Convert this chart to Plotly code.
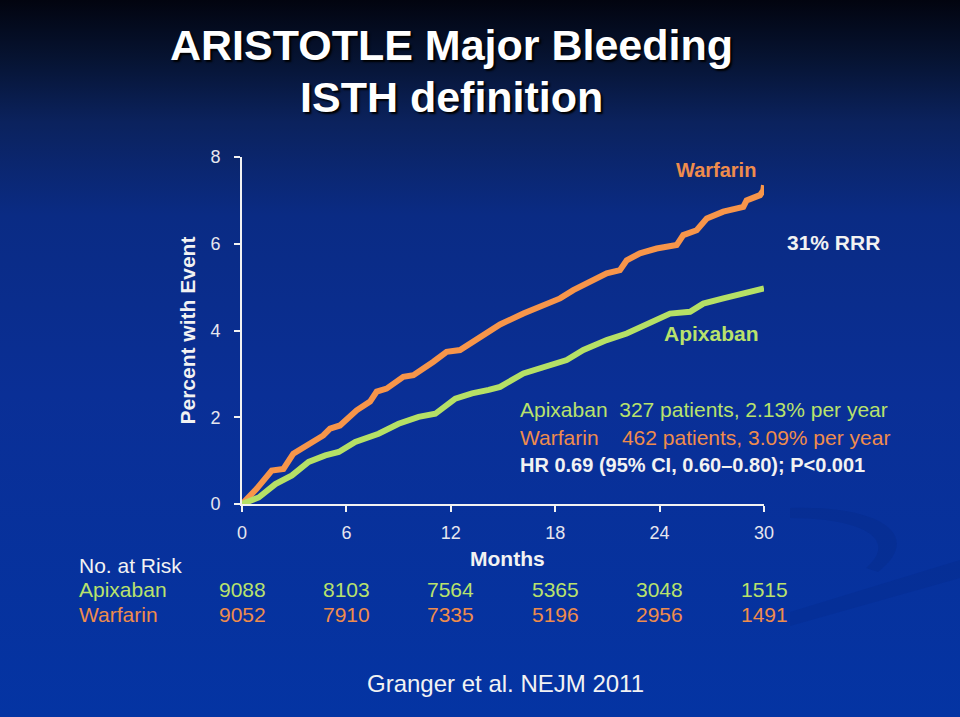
import base64
import plotly.graph_objects as go

# ---------------- data ----------------
warfarin_months = [0, 0.84, 1.71, 2.38, 2.95, 3.72, 4.67, 5.06, 5.63, 6.59, 7.36, 7.74, 8.31, 9.27,
                   9.85, 11.0, 11.76, 12.53, 13.3, 14.06, 14.83, 16.17, 17.51, 18.28, 19.04, 20.0,
                   20.96, 21.72, 22.11, 22.87, 23.83, 24.98, 25.36, 26.13, 26.71, 27.66, 28.81,
                   29.0, 29.77, 29.96, 30.0]
warfarin_pct = [0, 0.35, 0.77, 0.81, 1.16, 1.35, 1.58, 1.74, 1.81, 2.16, 2.36, 2.59, 2.66, 2.93,
                2.97, 3.28, 3.51, 3.55, 3.75, 3.98, 4.14, 4.39, 4.62, 4.74, 4.93, 5.12,
                5.32, 5.39, 5.62, 5.78, 5.89, 5.97, 6.2, 6.31, 6.58, 6.74, 6.85,
                7.0, 7.12, 7.23, 7.35]

apixaban_months = [0, 0.96, 1.92, 2.87, 3.83, 4.79, 5.56, 6.51, 7.85, 9.0, 10.15, 11.11, 12.26,
                   13.22, 14.18, 14.83, 16.17, 17.51, 18.66, 19.62, 20.96, 22.11, 23.26, 24.6,
                   25.75, 26.51, 27.66, 28.81, 30.0]
apixaban_pct = [0, 0.15, 0.46, 0.66, 0.97, 1.12, 1.2, 1.43, 1.62, 1.85, 2.01, 2.08, 2.43,
                2.55, 2.63, 2.7, 3.01, 3.16, 3.32, 3.55, 3.78, 3.93, 4.16, 4.39,
                4.43, 4.62, 4.74, 4.85, 4.97]

x_ticks = [0, 6, 12, 18, 24, 30]
y_ticks = [0, 2, 4, 6, 8]
risk_apixaban = [9088, 8103, 7564, 5365, 3048, 1515]
risk_warfarin = [9052, 7910, 7335, 5196, 2956, 1491]

title_lines = ["ARISTOTLE Major Bleeding", "ISTH definition"]
stats_lines = ["Apixaban  327 patients, 2.13% per year",
               "Warfarin    462 patients, 3.09% per year",
               "HR 0.69 (95% CI, 0.60\u20130.80); P<0.001"]

# ---------------- styles ----------------
ORANGE = "#f7954a"
GREEN = "#b5e066"
ORANGE_T = "#ef8c4c"
GREEN_T = "#b9e26c"
WHITE = "#f2f2f2"
FONT = "Liberation Sans, Arial, sans-serif"

W, H = 960, 717
L, R, T, B = 242, 196, 157, 213
pw, ph = W - L - R, H - T - B


def px(xp):
    return (xp - L) / pw


def py(yp):
    return (H - B - yp) / ph


svg = f"""<svg xmlns='http://www.w3.org/2000/svg' width='{W}' height='{H}' viewBox='0 0 {W} {H}' preserveAspectRatio='none'>
<defs><linearGradient id='g' x1='0' y1='0' x2='0' y2='1'>
<stop offset='0' stop-color='#02040f'/>
<stop offset='0.08' stop-color='#061331'/>
<stop offset='0.17' stop-color='#0b225d'/>
<stop offset='0.30' stop-color='#0a2b84'/>
<stop offset='0.55' stop-color='#0a2f96'/>
<stop offset='1' stop-color='#0434a3'/>
</linearGradient></defs>
<rect width='{W}' height='{H}' fill='url(#g)'/>
<path d='M 790 508 C 880 505 925 535 878 572 L 866 568 C 900 538 860 518 790 518 Z' fill='#042278' opacity='0.2'/>
<path d='M 790 612 L 960 560 L 960 578 L 790 626 Z' fill='#042278' opacity='0.18'/>
</svg>"""
bg_src = "data:image/svg+xml;base64," + base64.b64encode(svg.encode()).decode()

fig = go.Figure()
fig.add_trace(go.Scatter(x=warfarin_months, y=warfarin_pct, mode="lines",
                         line=dict(color=ORANGE, width=6), name="Warfarin", showlegend=False))
fig.add_trace(go.Scatter(x=apixaban_months, y=apixaban_pct, mode="lines",
                         line=dict(color=GREEN, width=6), name="Apixaban", showlegend=False))

ann = []
for t_line, yy in zip(title_lines, [45, 97]):
    ann.append(dict(text="<b>" + t_line + "</b>", xref="paper", yref="paper", x=px(451), y=py(yy),
                    xanchor="center", yanchor="middle", showarrow=False,
                    font=dict(family=FONT, size=43, color="white", shadow="2px 2px 2px #000000")))
ann.append(dict(text="<b>Percent with Event</b>", textangle=-90, xref="paper", yref="paper",
                x=px(187), y=0.5, xanchor="center", yanchor="middle", showarrow=False,
                font=dict(family=FONT, size=21, color=WHITE)))
ann.append(dict(text="<b>Warfarin</b>", xref="paper", yref="paper", x=px(716), y=py(170),
                xanchor="center", yanchor="middle", showarrow=False,
                font=dict(family=FONT, size=20, color=ORANGE_T)))
ann.append(dict(text="<b>Apixaban</b>", xref="paper", yref="paper", x=px(711), y=py(333),
                xanchor="center", yanchor="middle", showarrow=False,
                font=dict(family=FONT, size=21, color=GREEN_T)))
ann.append(dict(text="<b>31% RRR</b>", xref="paper", yref="paper", x=px(833), y=py(242),
                xanchor="center", yanchor="middle", showarrow=False,
                font=dict(family=FONT, size=21, color=WHITE)))
stat_cols = [GREEN_T, ORANGE_T, WHITE]
stat_y = [409, 437, 465]
for i, (s, c, yy) in enumerate(zip(stats_lines, stat_cols, stat_y)):
    txt = "<b>" + s + "</b>" if i == 2 else s
    ann.append(dict(text=txt, xref="paper", yref="paper", x=px(518), y=py(yy),
                    xanchor="left", yanchor="middle", showarrow=False,
                    font=dict(family=FONT, size=21 if i < 2 else 20, color=c)))
ann.append(dict(text="<b>Months</b>", xref="paper", yref="paper", x=px(507), y=py(558),
                xanchor="center", yanchor="middle", showarrow=False,
                font=dict(family=FONT, size=21, color=WHITE)))
ann.append(dict(text="No. at Risk", xref="paper", yref="paper", x=px(77), y=py(565),
                xanchor="left", yanchor="middle", showarrow=False,
                font=dict(family=FONT, size=21, color=WHITE)))
for label, vals, col, yy in [("Apixaban", risk_apixaban, GREEN_T, 589),
                             ("Warfarin", risk_warfarin, ORANGE_T, 614)]:
    ann.append(dict(text=label, xref="paper", yref="paper", x=px(77), y=py(yy),
                    xanchor="left", yanchor="middle", showarrow=False,
                    font=dict(family=FONT, size=21, color=col)))
    for xv, v in zip(x_ticks, vals):
        ann.append(dict(text=str(v), xref="x", yref="paper", x=xv, y=py(yy),
                        xanchor="center", yanchor="middle", showarrow=False,
                        font=dict(family=FONT, size=21, color=col)))
ann.append(dict(text="Granger et al. NEJM 2011", xref="paper", yref="paper", x=px(505), y=py(683),
                xanchor="center", yanchor="middle", showarrow=False,
                font=dict(family=FONT, size=24, color=WHITE)))

fig.update_layout(
    width=W, height=H,
    margin=dict(l=L, r=R, t=T, b=B, pad=0),
    paper_bgcolor="#0a2b86",
    plot_bgcolor="rgba(0,0,0,0)",
    annotations=ann,
    images=[dict(source=bg_src, xref="paper", yref="paper", x=px(0), y=py(0),
                 sizex=W / pw, sizey=H / ph, sizing="stretch", xanchor="left", yanchor="top",
                 layer="below")],
    xaxis=dict(range=[0, 30], tickvals=x_ticks, showgrid=False, zeroline=False,
               showline=True, linecolor=WHITE, linewidth=2, ticks="outside", ticklen=6,
               tickwidth=2, tickcolor=WHITE, ticklabelstandoff=5,
               tickfont=dict(family=FONT, size=18, color="#e6e6ee")),
    yaxis=dict(range=[0, 8], tickvals=y_ticks, showgrid=False, zeroline=False,
               showline=True, linecolor=WHITE, linewidth=2, ticks="outside", ticklen=6,
               tickwidth=2, tickcolor=WHITE, ticklabelstandoff=10,
               tickfont=dict(family=FONT, size=18, color="#e6e6ee")),
)

fig.write_html("out.html", config={"displayModeBar": False},
               post_script="document.body.style.margin='0px';document.body.style.padding='0px';"
                           "document.body.style.overflow='hidden';")
